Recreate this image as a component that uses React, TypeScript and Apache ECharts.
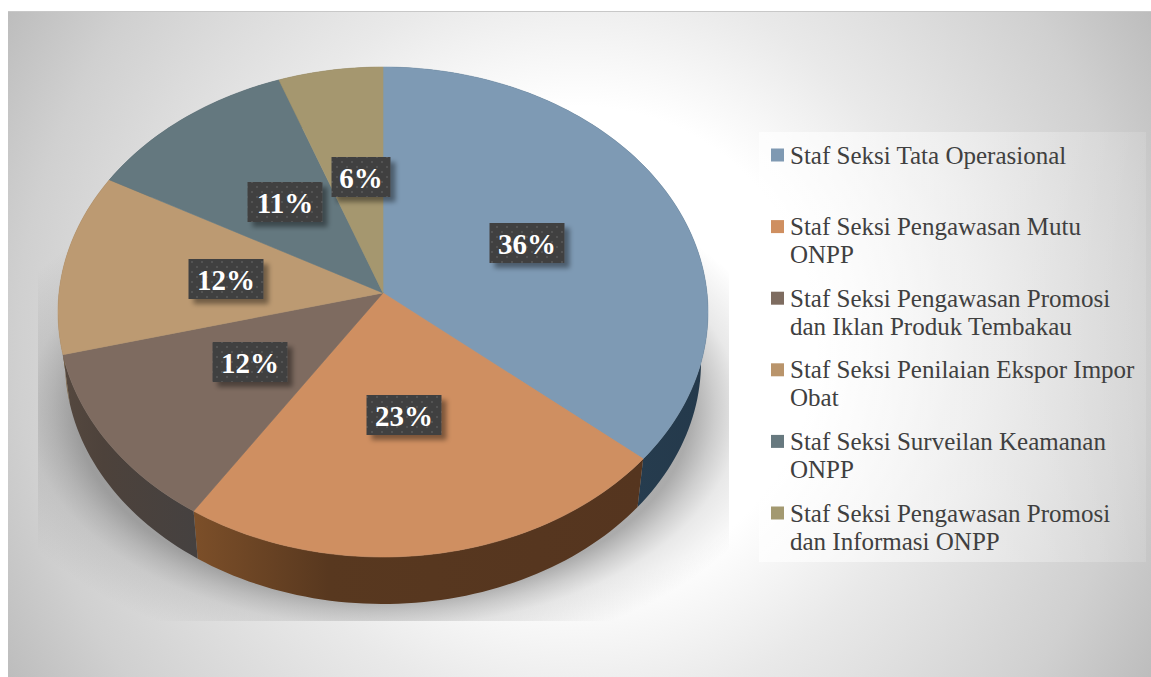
import React, { useEffect, useRef } from "react";
import * as echarts from "echarts";

const categories = [
  "Staf Seksi Tata Operasional",
  "Staf Seksi Pengawasan Mutu\nONPP",
  "Staf Seksi Pengawasan Promosi\ndan Iklan Produk Tembakau",
  "Staf Seksi Penilaian Ekspor Impor\nObat",
  "Staf Seksi Surveilan Keamanan\nONPP",
  "Staf Seksi Pengawasan Promosi\ndan Informasi ONPP",
];
const values = [36.2, 23.0, 11.8, 12.0, 11.4, 5.6];
const faceColors = ["#7e9ab4", "#cf8f61", "#7e6b60", "#bc9a72", "#64787f", "#a5976f"];
const legendColors = ["#7f99b2", "#cf8f60", "#7e6c60", "#b9946b", "#67797f", "#a39970"];
const wallLeft = ["#24394b", "#7c4f29", "#55483f", "#7a6244", "#3f4d52", "#6a6047"];
const wallMid = ["#2a4255", "#58381f", "#4d423b", "#7a6244", "#3f4d52", "#6a6047"];
const wallRight = ["#2a4255", "#55351f", "#454140", "#7a6244", "#3f4d52", "#6a6047"];

const FONT = '"Liberation Serif", serif';
const total = values.reduce((a, b) => a + b, 0);
const K = -0.078;
const TOP = { cx: 383, cy: 312, rx: 325, ry: 245 };
const BOTTOM = { cx: 383, cy: 362, rx: 318, ry: 242 };
const LABEL_NUDGE = [[6, -2], [-4, -5], [1, -3], [-3, 1], [-1, -6], [4, -8]];

function project(theta: number, e: typeof TOP, f = 1): number[] {
  const x = Math.sin(theta);
  const y = -Math.cos(theta);
  const d = 1 + K * y;
  const X = (x * Math.sqrt(1 - K * K)) / d;
  const Y = (y + K) / d;
  const apex = [e.cx, e.cy + e.ry * K];
  const p = [e.cx + e.rx * X, e.cy + e.ry * Y];
  return [apex[0] + (p[0] - apex[0]) * f, apex[1] + (p[1] - apex[1]) * f];
}

function sliceAngles(i: number): number[] {
  const before = values.slice(0, i).reduce((a, b) => a + b, 0);
  return [(before / total) * Math.PI * 2, ((before + values[i]) / total) * Math.PI * 2];
}

function arc(a0: number, a1: number, e: typeof TOP): number[][] {
  const pts: number[][] = [];
  const n = Math.max(8, Math.ceil((a1 - a0) * 40));
  for (let k = 0; k <= n; k++) pts.push(project(a0 + ((a1 - a0) * k) / n, e));
  return pts;
}

function dotPattern(): HTMLCanvasElement {
  const c = document.createElement("canvas");
  c.width = 10;
  c.height = 10;
  const g = c.getContext("2d")!;
  g.fillStyle = "#404040";
  g.fillRect(0, 0, 10, 10);
  g.fillStyle = "#525252";
  g.fillRect(1, 1, 2, 2);
  g.fillRect(6, 6, 2, 2);
  return c;
}

export default function App() {
  const ref = useRef<HTMLDivElement>(null);
  useEffect(() => {
    document.body.style.margin = "0";
    document.body.style.background = "#fff";
    const chart = echarts.init(ref.current!, undefined, { renderer: "svg" });
    const pattern = dotPattern();
    const seriesData = values.map((v, i) => ({ name: categories[i], value: v }));

    const legendItems: any[] = [];
    categories.forEach((c, i) => {
      const y = 155 + i * 71.6;
      legendItems.push({
        type: "rect",
        shape: { x: 771, y: y - 6.5, width: 13, height: 13 },
        style: { fill: legendColors[i] },
        z: 3,
      });
      legendItems.push({
        type: "text",
        x: 790,
        y: y - 14,
        style: {
          text: c,
          fill: "#404040",
          font: `25px ${FONT}`,
          lineHeight: 28,
          align: "left",
          verticalAlign: "top",
        },
        z: 3,
      });
    });

    chart.setOption({
      animation: false,
      graphic: [
        {
          type: "rect",
          z: -3,
          shape: { x: 8, y: 11, width: 1143, height: 666 },
          style: {
            fill: {
              type: "radial",
              global: true,
              x: 579,
              y: 344,
              r: 660,
              colorStops: [
                { offset: 0, color: "#ffffff" },
                { offset: 0.36, color: "#ffffff" },
                { offset: 0.56, color: "#e9e9e9" },
                { offset: 0.85, color: "#d0d0d0" },
                { offset: 1, color: "#bdbdbd" },
              ],
            },
          },
        },
        {
          type: "line",
          z: -2,
          shape: { x1: 8, y1: 11.5, x2: 1151, y2: 11.5 },
          style: { stroke: "#c8c8c8", lineWidth: 1 },
        },
        {
          type: "rect",
          z: -1,
          shape: { x: 38, y: 200, width: 691, height: 421 },
          style: {
            fill: {
              type: "radial",
              x: 0.5,
              y: 0.5,
              r: 0.6,
              colorStops: [
                { offset: 0, color: "rgba(120,120,120,0.62)" },
                { offset: 0.74, color: "rgba(120,120,120,0.62)" },
                { offset: 0.8, color: "rgba(125,125,125,0.38)" },
                { offset: 0.86, color: "rgba(130,130,130,0.18)" },
                { offset: 1, color: "rgba(130,130,130,0)" },
              ],
            },
          },
        },
        {
          type: "rect",
          z: 1,
          shape: { x: 759, y: 132, width: 387, height: 430 },
          style: {
            fill: {
              type: "linear",
              x: 0,
              y: 0,
              x2: 1,
              y2: 0,
              colorStops: [
                { offset: 0, color: "rgba(255,255,255,0.7)" },
                { offset: 1, color: "rgba(255,255,255,0.12)" },
              ],
            },
          },
        },
        ...legendItems,
      ],
      series: [
        {
          type: "custom",
          name: "walls",
          coordinateSystem: "none",
          z: 2,
          silent: true,
          data: seriesData,
          renderItem: (p: any) => {
            const i = p.dataIndex;
            const [a0, a1] = sliceAngles(i);
            const pts = [...arc(a0, a1, TOP), ...arc(a0, a1, BOTTOM).reverse()];
            const fill = {
              type: "linear",
              x: 0,
              y: 0,
              x2: 1,
              y2: 0,
              colorStops: [
                { offset: 0, color: i === 0 ? wallRight[i] : wallLeft[i] },
                { offset: 0.3, color: wallMid[i] },
                { offset: 1, color: i === 0 ? wallLeft[i] : wallRight[i] },
              ],
            };
            return { type: "polygon", shape: { points: pts }, style: { fill } };
          },
        },
        {
          type: "custom",
          name: "faces",
          coordinateSystem: "none",
          z: 3,
          silent: true,
          data: seriesData,
          renderItem: (p: any) => {
            const i = p.dataIndex;
            const [a0, a1] = sliceAngles(i);
            const apex = project(0, TOP, 0);
            return {
              type: "polygon",
              shape: { points: [apex, ...arc(a0, a1, TOP)] },
              style: { fill: faceColors[i], stroke: faceColors[i], lineWidth: 0.6 },
            };
          },
        },
        {
          type: "custom",
          name: "labels",
          coordinateSystem: "none",
          z: 4,
          silent: true,
          data: seriesData,
          renderItem: (p: any, api: any) => {
            const i = p.dataIndex;
            const [a0, a1] = sliceAngles(i);
            const c = project((a0 + a1) / 2, TOP, 0.485);
            const x = Math.round(c[0] + LABEL_NUDGE[i][0]);
            const y = Math.round(c[1] + LABEL_NUDGE[i][1]);
            const text = `${Math.round(api.value(0))}%`;
            const w = 27 + 16 * text.length;
            const h = 40;
            return {
              type: "group",
              children: [
                {
                  type: "rect",
                  shape: { x: x - w / 2, y: y - h / 2, width: w, height: h },
                  style: {
                    fill: { image: pattern, repeat: "repeat" },
                    shadowColor: "rgba(0,0,0,0.4)",
                    shadowBlur: 5,
                    shadowOffsetX: 5,
                    shadowOffsetY: 5,
                  },
                },
                {
                  type: "text",
                  x,
                  y: y + 1,
                  style: {
                    text,
                    fill: "#ffffff",
                    font: `bold 29px ${FONT}`,
                    align: "center",
                    verticalAlign: "middle",
                  },
                },
              ],
            };
          },
        },
      ],
    });
    return () => chart.dispose();
  }, []);
  return <div ref={ref} style={{ width: 1151, height: 677 }} />;
}
